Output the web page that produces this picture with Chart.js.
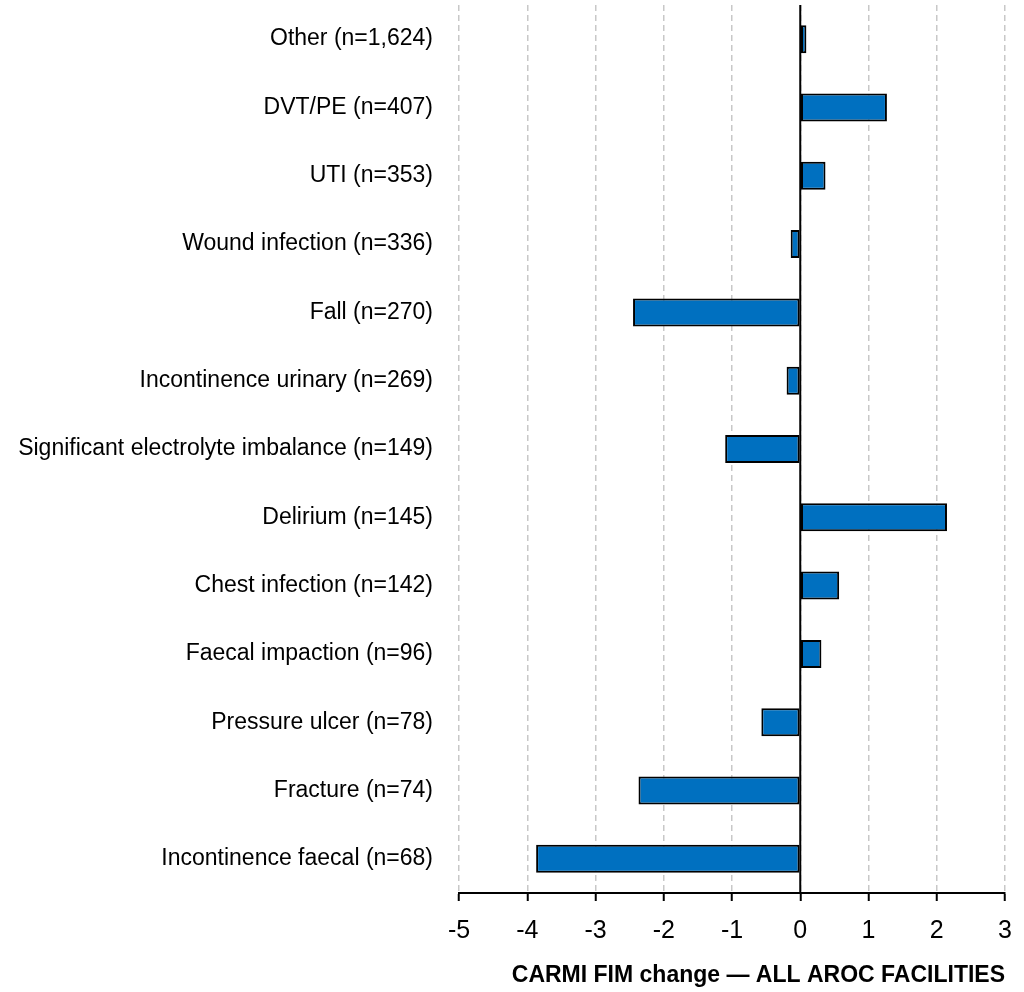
<!DOCTYPE html>
<html><head><meta charset="utf-8">
<script src="https://cdn.jsdelivr.net/npm/chart.js@4/dist/chart.umd.min.js"></script>
<style>html,body{margin:0;padding:0;background:#fff}</style>
</head><body>
<canvas id="c" width="1024" height="992" style="width:1024px;height:992px;display:block"></canvas>
<script>
const categories = [
  'Other (n=1,624)',
  'DVT/PE (n=407)',
  'UTI (n=353)',
  'Wound infection (n=336)',
  'Fall (n=270)',
  'Incontinence urinary (n=269)',
  'Significant electrolyte imbalance (n=149)',
  'Delirium (n=145)',
  'Chest infection (n=142)',
  'Faecal impaction (n=96)',
  'Pressure ulcer (n=78)',
  'Fracture (n=74)',
  'Incontinence faecal (n=68)'
];
const fimChange = [0.09, 1.27, 0.37, -0.14, -2.45, -0.20, -1.10, 2.15, 0.57, 0.31, -0.57, -2.37, -3.87];
const xMin = -5;
const xMax = 3;
const axisTitle = 'CARMI FIM change \u2014 ALL AROC FACILITIES';

const FONT = "'Liberation Sans Narrow', 'Liberation Sans', Arial, sans-serif";

const zeroLine = {
  id: 'zeroLine',
  beforeDatasetsDraw(chart) {
    const x = chart.scales.x.getPixelForValue(0);
    const {top, bottom} = chart.chartArea;
    const ctx = chart.ctx;
    ctx.save();
    ctx.strokeStyle = '#000';
    ctx.lineWidth = 2;
    ctx.beginPath();
    ctx.moveTo(x, top);
    ctx.lineTo(x, bottom);
    ctx.stroke();
    ctx.restore();
  }
};

new Chart(document.getElementById('c'), {
  type: 'bar',
  data: {
    labels: categories,
    datasets: [{
      data: fimChange,
      backgroundColor: '#0070C0',
      borderColor: '#000',
      borderWidth: 2,
      borderSkipped: false,
      categoryPercentage: 1,
      barPercentage: 0.41
    }]
  },
  options: {
    indexAxis: 'y',
    responsive: false,
    animation: false,
    devicePixelRatio: 1,
    layout: { padding: { top: 5, right: 19, bottom: 0, left: 0 } },
    plugins: { legend: { display: false }, tooltip: { enabled: false } },
    scales: {
      x: {
        type: 'linear',
        min: xMin,
        max: xMax,
        afterFit(scale) {
          scale.height = 99;
          scale.paddingLeft = 0;
          scale.paddingRight = 0;
        },
        ticks: {
          stepSize: 1,
          color: '#000',
          padding: 15,
          font: { family: FONT, size: 25 },
          callback: v => String(v)
        },
        grid: {
          color: '#c8c8c8',
          lineWidth: 1.5,
          drawTicks: true,
          tickLength: 8,
          tickColor: '#000',
          tickWidth: 2
        },
        border: { display: true, color: '#000', width: 2, dash: [6, 4] },
        title: {
          display: true,
          text: axisTitle,
          align: 'end',
          color: '#000',
          font: { family: FONT, size: 23, weight: 'bold' },
          padding: { top: 0, bottom: 3 }
        }
      },
      y: {
        type: 'category',
        afterFit(scale) {
          scale.width = 459;
          scale.paddingTop = 0;
          scale.paddingBottom = 0;
        },
        ticks: {
          color: '#000',
          padding: 26,
          font: { family: FONT, size: 23 }
        },
        grid: { display: false, drawTicks: false },
        border: { display: false }
      }
    }
  },
  plugins: [zeroLine]
});
</script>
</body></html>
